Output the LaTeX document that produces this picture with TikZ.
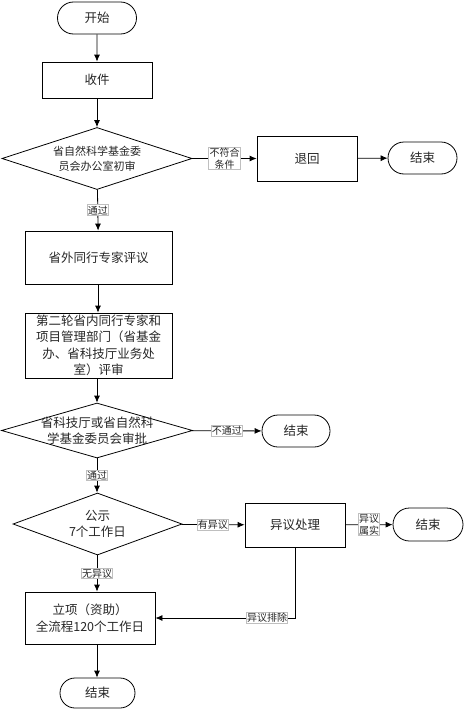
\documentclass[tikz,border=0pt]{standalone}
\usepackage{fontspec}
\setmainfont{Noto Sans CJK SC}
\usetikzlibrary{shapes,arrows.meta,positioning,calc}

\begin{document}
\begin{tikzpicture}[
    x=1pt,y=1pt,
    >={Latex[length=7pt,width=6pt]},
    every node/.style={align=center,text=black!85,font=\fontsize{12.5}{16.5}\selectfont},
    proc/.style={draw,line width=0.8pt,inner sep=0pt},
    term/.style={draw,rounded rectangle,line width=0.8pt,inner sep=0pt},
    decide/.style={draw,diamond,line width=0.8pt,inner sep=0pt},
    tag/.style={draw=black!25,fill=white,inner sep=0.8pt,font=\fontsize{10}{11.5}\selectfont},
    flow/.style={->,line width=0.8pt}
]
\useasboundingbox (0,0) rectangle (465,-712);

% Main column
\node[term,minimum width=79pt,minimum height=32pt] (start) at (97,-18) {开始};
\node[proc,minimum width=110pt,minimum height=36pt] (receive) at (97,-80) {收件};
\node[decide,minimum width=190pt,minimum height=62pt,
      label={[font=\fontsize{11}{15}\selectfont]center:省自然科学基金委\\员会办公室初审}] (check) at (97,-158.5) {};
\node[proc,minimum width=147pt,minimum height=53pt] (outside) at (98.5,-257.5) {省外同行专家评议};
\node[proc,minimum width=147pt,minimum height=65pt] (second) at (98.5,-345.5)
    {第二轮省内同行专家和\\项目管理部门（省基金\\办、省科技厅业务处\\室）评审};
\node[decide,minimum width=191pt,minimum height=55pt,
      label={center:省科技厅或省自然科\\学基金委员会审批}] (approve) at (97,-430.5) {};
\node[decide,minimum width=169pt,minimum height=62pt,
      label={center:公示\\7个工作日}] (publicity) at (97.5,-524) {};
\node[proc,minimum width=130pt,minimum height=52pt] (project) at (90,-618) {立项（资助）\\全流程120个工作日};
\node[term,minimum width=75pt,minimum height=30pt] (finish) at (97.5,-693) {结束};

% Side branches
\node[proc,minimum width=100pt,minimum height=45pt] (returned) at (307,-158.5) {退回};
\node[term,minimum width=69pt,minimum height=32pt] (endreturn) at (422.5,-158) {结束};
\node[term,minimum width=68pt,minimum height=32pt] (endreject) at (296,-431) {结束};
\node[proc,minimum width=100pt,minimum height=44pt] (objection) at (295,-525) {异议处理};
\node[term,minimum width=70pt,minimum height=33pt] (endobject) at (428,-524.5) {结束};

% Connections
\draw[flow] (start) -- (receive);
\draw[flow] (receive) -- (check);
\draw[flow] (check) -- node[tag] {通过} (outside);
\draw[flow] (check) -- node[tag] {不符合\\条件} (returned);
\draw[flow] (returned) -- (endreturn);
\draw[flow] (outside.south -| 98,0) -- (second.north -| 98,0);
\draw[flow] (second.south -| approve.north) -- (approve);
\draw[flow] (approve) -- node[tag] {不通过} (endreject);
\draw[flow] (approve) -- node[tag] {通过} (publicity.north -| approve.south);
\draw[flow] (publicity) -- node[tag] {有异议} (objection);
\draw[flow] (objection) -- node[tag] {异议\\属实} (endobject);
\draw[flow] (publicity.south -| 97,0) -- node[tag] {无异议} (project.north -| 97,0);
\draw[flow] (objection.south) |- node[tag,pos=0.6] {异议排除} (project.east);
\draw[flow] (project.south -| 97,0) -- (finish.north -| 97,0);

\end{tikzpicture}
\end{document}
